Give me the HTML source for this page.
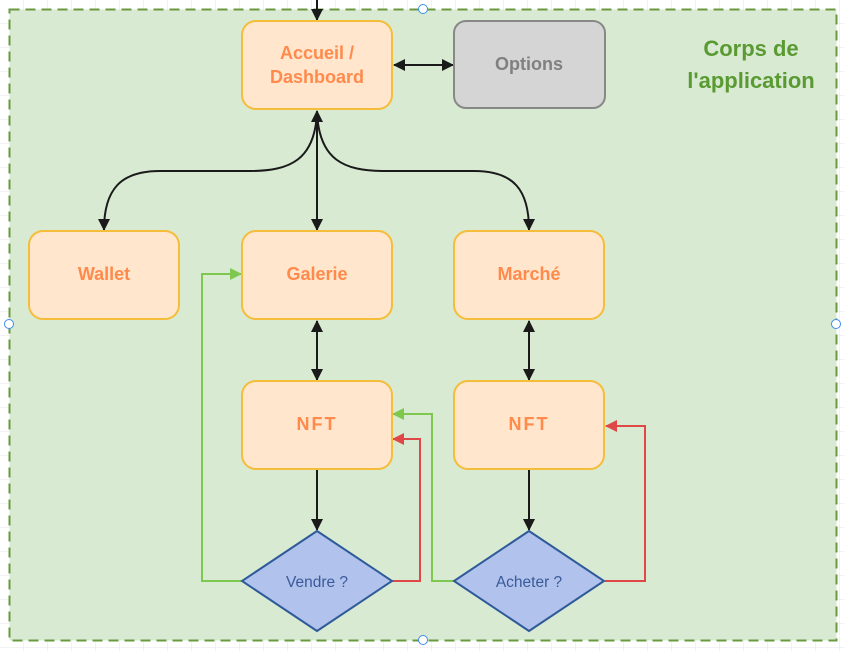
<!DOCTYPE html>
<html><head><meta charset="utf-8"><style>
html,body{margin:0;padding:0;background:#fff;}
svg{display:block;}
text{font-family:"Liberation Sans",Arial,sans-serif;}
</style></head><body>
<svg width="844" height="651" viewBox="0 0 844 651" xmlns="http://www.w3.org/2000/svg">
<defs>
<pattern id="g" width="24" height="24" patternUnits="userSpaceOnUse">
<path d="M24 0V24M0 24H24" fill="none" stroke="#e6e6e6" stroke-width="1"/>
</pattern>
<marker id="ab" markerWidth="12" markerHeight="12" refX="11" refY="6" orient="auto" markerUnits="userSpaceOnUse"><path d="M0,0 L12,6 L0,12 Z" fill="#1a1a1a"/></marker>
<marker id="abs" markerWidth="12" markerHeight="12" refX="1" refY="6" orient="auto" markerUnits="userSpaceOnUse"><path d="M12,0 L0,6 L12,12 Z" fill="#1a1a1a"/></marker>
<marker id="ag" markerWidth="12" markerHeight="12" refX="11" refY="6" orient="auto" markerUnits="userSpaceOnUse"><path d="M0,0 L12,6 L0,12 Z" fill="#7ec850"/></marker>
<marker id="ar" markerWidth="12" markerHeight="12" refX="11" refY="6" orient="auto" markerUnits="userSpaceOnUse"><path d="M0,0 L12,6 L0,12 Z" fill="#e04848"/></marker>
</defs>
<rect width="844" height="651" fill="url(#g)"/>
<rect x="9.5" y="9.5" width="827" height="631" fill="#d9ead3" stroke="#6a9a3f" stroke-width="2" stroke-dasharray="10,6"/>
<text x="751" y="56" font-size="22" font-weight="bold" fill="#5a9a32" text-anchor="middle">Corps de</text>
<text x="751" y="88" font-size="22" font-weight="bold" fill="#5a9a32" text-anchor="middle">l'application</text>

<g stroke="#1a1a1a" stroke-width="2" fill="none">
<path d="M317 0V20" marker-end="url(#ab)"/>
<path d="M394 65H453" marker-start="url(#abs)" marker-end="url(#ab)"/>
<path d="M317 111V230" marker-start="url(#abs)" marker-end="url(#ab)"/>
<path d="M317 112C315 160 290 171 250 171H160C120 171 104 190 104 230" marker-end="url(#ab)"/>
<path d="M317 112C319 160 344 171 384 171H474C514 171 529 190 529 230" marker-end="url(#ab)"/>
<path d="M317 321V380" marker-start="url(#abs)" marker-end="url(#ab)"/>
<path d="M529 321V380" marker-start="url(#abs)" marker-end="url(#ab)"/>
<path d="M317 469V530" marker-end="url(#ab)"/>
<path d="M529 469V530" marker-end="url(#ab)"/>
</g>
<g stroke-width="2" fill="none">
<path d="M242 581H202V274H241" stroke="#7ec850" marker-end="url(#ag)"/>
<path d="M392 581H420V439H393" stroke="#e04848" marker-end="url(#ar)"/>
<path d="M454 581H432V414H393" stroke="#7ec850" marker-end="url(#ag)"/>
<path d="M605 581H645V426H606" stroke="#e04848" marker-end="url(#ar)"/>
</g>

<g stroke="#f5bd3a" stroke-width="2" fill="#ffe6cc">
<rect x="242" y="21" width="150" height="88" rx="14"/>
<rect x="29" y="231" width="150" height="88" rx="14"/>
<rect x="242" y="231" width="150" height="88" rx="14"/>
<rect x="454" y="231" width="150" height="88" rx="14"/>
<rect x="242" y="381" width="150" height="88" rx="14"/>
<rect x="454" y="381" width="150" height="88" rx="14"/>
</g>
<rect x="454" y="21" width="151" height="87" rx="12" fill="#d5d5d5" stroke="#888" stroke-width="2"/>
<g font-size="18" font-weight="bold" fill="#ff8a4c" text-anchor="middle">
<text x="317" y="59">Accueil /</text>
<text x="317" y="83">Dashboard</text>
<text x="104" y="280">Wallet</text>
<text x="317" y="280">Galerie</text>
<text x="529" y="280">Marché</text>
<text x="317" y="430" letter-spacing="2">NFT</text>
<text x="529" y="430" letter-spacing="2">NFT</text>
</g>
<text x="529" y="70" font-size="18" font-weight="bold" fill="#808080" text-anchor="middle">Options</text>
<g fill="#b1c3ec" stroke="#2f5a9a" stroke-width="2">
<path d="M317 531L392 581L317 631L242 581Z"/>
<path d="M529 531L604 581L529 631L454 581Z"/>
</g>
<g font-size="15.5" fill="#3a5a9a" text-anchor="middle">
<text x="317" y="587">Vendre ?</text>
<text x="529" y="587">Acheter ?</text>
</g>
<g fill="#fff" stroke="#3d8ef0" stroke-width="1">
<circle cx="423" cy="9" r="4.5"/><circle cx="423" cy="640" r="4.5"/>
<circle cx="9" cy="324" r="4.5"/><circle cx="836" cy="324" r="4.5"/>
</g>
</svg>
</body></html>
